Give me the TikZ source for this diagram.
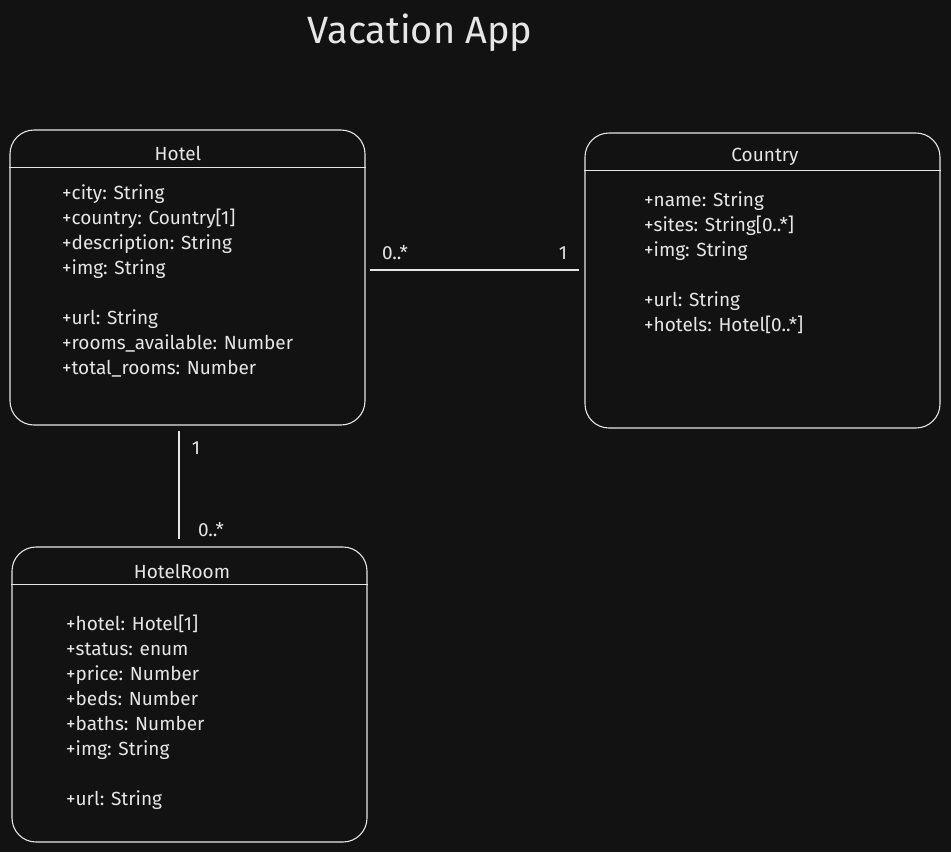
\documentclass[tikz,border=0pt]{standalone}
\usepackage{fontspec}
\setmainfont{Fira Sans}
\usepackage{tikz}
\definecolor{bg}{HTML}{121212}
\definecolor{ink}{HTML}{E6E6E6}

\begin{document}
\begin{tikzpicture}[x=1pt, y=-1pt, font=\fontsize{19}{25}\selectfont, ink,
    classbox/.style={draw=ink, line width=1.1pt, rounded corners=24pt, minimum width=355pt, minimum height=295pt, inner sep=0pt},
    attrs/.style={anchor=north west, align=left, inner sep=0pt},
    mult/.style={inner sep=0pt}]
  \fill[bg] (0,0) rectangle (951,852);
  \node (title) at (420,33) {\fontsize{38}{42}\selectfont Vacation App};
  % classes
  \node[classbox] (hotel) at (187.5,277.5) {};
  \node[classbox] (country) at (762.5,280.5) {};
  \node[classbox] (room) at (189.5,694.5) {};
  \foreach \c in {hotel,country,room}
    \draw[line width=1.1pt] ([yshift=-38pt]\c.north west) -- ([yshift=-38pt]\c.north east);
  \node (hoteltitle) at (178,153) {Hotel};
  \node (countrytitle) at (765,157) {Country};
  \node (roomtitle) at (182,571) {HotelRoom};
  \node[attrs] (hotelattrs) at (62,184) {+city: String\\ +country: Country[1]\\ +description: String\\ +img: String\\[25pt] +url: String\\ +rooms\_available: Number\\ +total\_rooms: Number};
  \node[attrs] (countryattrs) at (644,191) {+name: String\\ +sites: String[0..*]\\ +img: String\\[25pt] +url: String\\ +hotels: Hotel[0..*]};
  \node[attrs] (roomattrs) at (66,615) {+hotel: Hotel[1]\\ +status: enum\\ +price: Number\\ +beds: Number\\ +baths: Number\\ +img: String\\[25pt] +url: String};
  % associations
  \draw[line width=1.1pt] ([xshift=4pt,yshift=7.5pt]hotel.east) -- ([xshift=-5pt,yshift=10.5pt]country.west);
  \draw[line width=1.1pt] ([xshift=-8.5pt,yshift=-5pt]hotel.south) -- ([xshift=-10.5pt,yshift=7pt]room.north);
  \node[mult] (m1) at (395,253) {0..*};
  \node[mult] (m2) at (563,253) {1};
  \node[mult] (m3) at (196,448) {1};
  \node[mult] (m4) at (211,530) {0..*};
\end{tikzpicture}
\end{document}
